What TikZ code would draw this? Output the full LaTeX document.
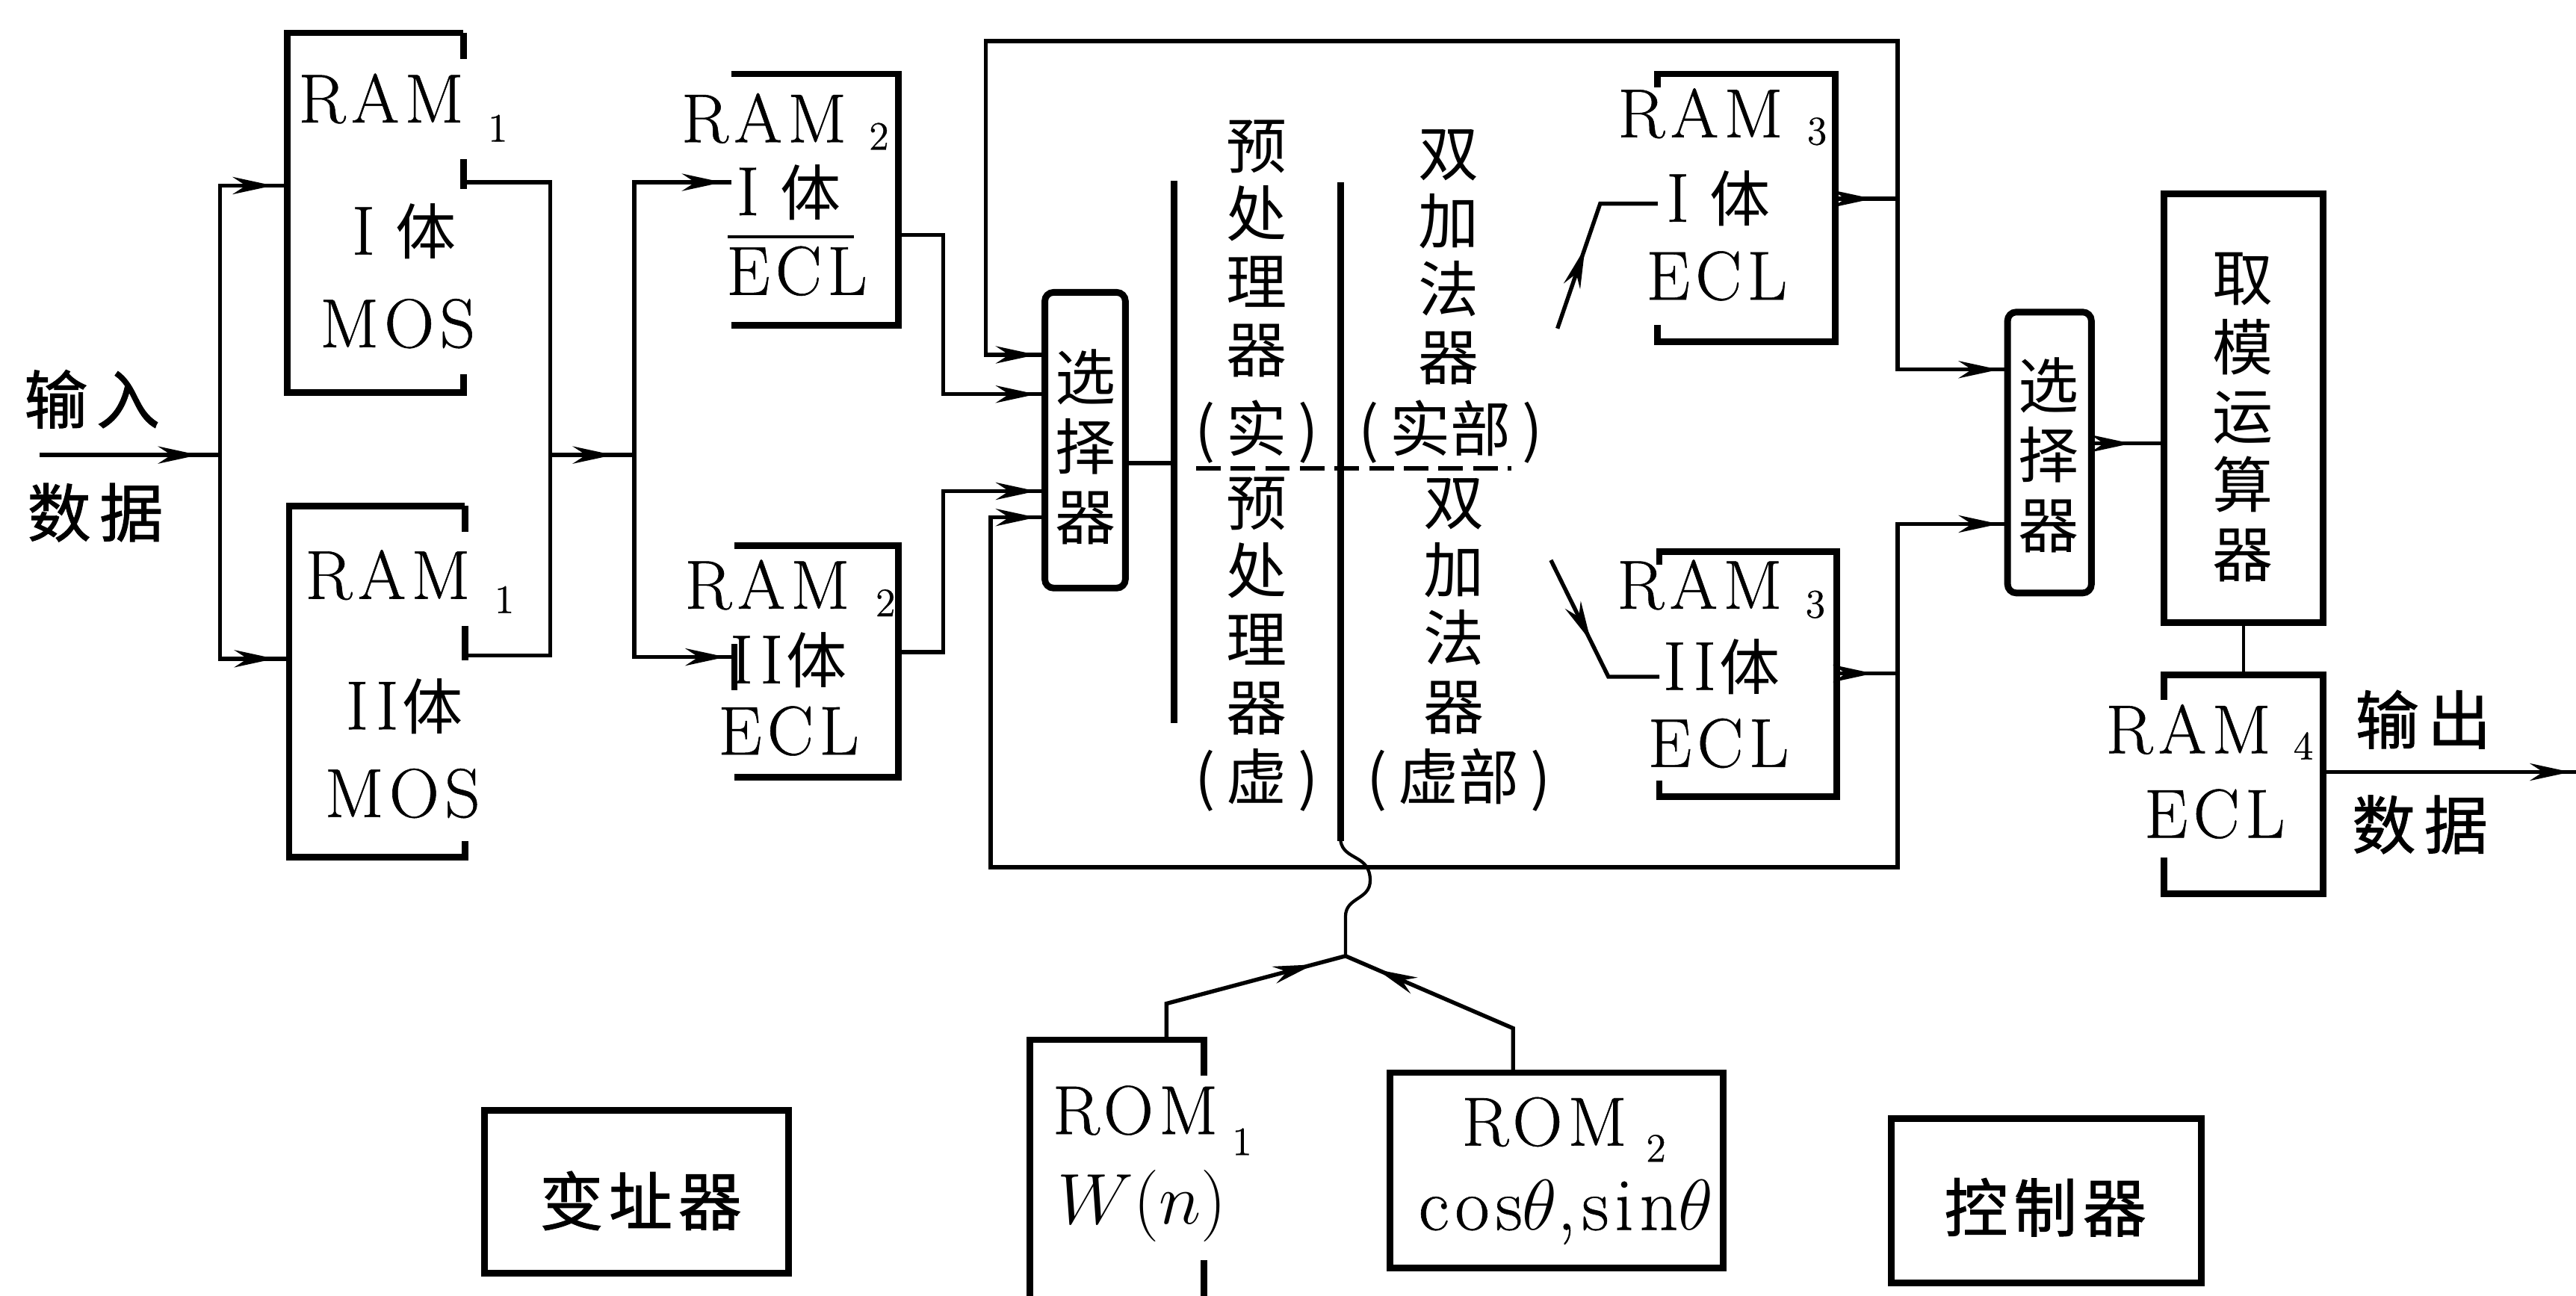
\documentclass[tikz,border=0pt]{standalone}
\usepackage{fontspec}
\setmainfont{Latin Modern Roman}[FakeBold=0.6, LetterSpace=8]
\newfontfamily\cjk{Noto Sans CJK SC}
\newfontfamily\cjkb[FakeBold=1.2]{Noto Sans CJK SC}
\usetikzlibrary{arrows.meta,decorations.markings}
\newdimen\pxu \pxu=0.02cm
\newcommand\mkbox[5]{\node[bx, minimum width={(#4-#2)*\pxu}, minimum height={(#5-#3)*\pxu}] (#1) at ({(#2+#4)/2},{(#3+#5)/2}) {};}
\newcommand\tizh{{\cjk\fontsize{21}{24}\selectfont 体}}
\newcommand\pars[1]{(\hspace{0.18em}#1\hspace{0.18em})}
\begin{document}
\begin{tikzpicture}[x=0.02cm, y=-0.02cm,
  bx/.style={inner sep=0pt, outer sep=0pt},
  edge/.style={line width=2.3pt},
  wire/.style={line width=1.4pt},
  thin wire/.style={line width=1.1pt},
  flow/.style={decoration={markings, mark=at position #1 with {\arrow{Stealth[length=14pt,width=6pt]}}}, postaction={decorate}},
  lat/.style={font=\fontsize{24}{28}\selectfont, inner sep=0pt},
  sub/.style={font=\fontsize{14}{16}\selectfont, inner sep=0pt},
  col/.style={font=\cjk\fontsize{21}{#1}\selectfont, align=center, inner sep=0pt},
  cj/.style={font=\cjk\fontsize{21}{24}\selectfont, inner sep=0pt},
  cjb/.style={font=\cjkb\fontsize{22}{26}\selectfont, inner sep=0pt},
]
\useasboundingbox (0,0) rectangle (1568,788.55);

% ---------- box nodes ----------
\mkbox{ra}{175}{20}{282}{239}
\mkbox{rb}{176}{308}{283}{522}
\mkbox{rc}{445}{45}{547}{198}
\mkbox{rd}{447}{332}{547}{473}
\mkbox{sa}{636}{178}{685}{358}
\mkbox{re}{1009}{45}{1117}{208}
\mkbox{rf}{1010}{336}{1118}{485}
\mkbox{sb}{1222}{190}{1273}{361}
\mkbox{md}{1317}{118}{1414}{379}
\mkbox{rg}{1317}{411}{1414}{544}
\mkbox{rh}{627}{633}{733}{789}
\mkbox{ri}{846}{653}{1049}{772}
\mkbox{ad}{295}{676}{480}{775}
\mkbox{ct}{1151}{681}{1340}{781}

% ---------- outlines ----------
\draw[edge] (ra.north east) -- (ra.north west) -- (ra.south west) -- (ra.south east) -- ++(0,-11);
\draw[edge] (ra.north east) -- ++(0,16);
\draw[edge] (ra.east |- 0,97) -- (ra.east |- 0,115);
\draw[edge] (rb.north east) -- (rb.north west) -- (rb.south west) -- (rb.south east) -- ++(0,-10);
\draw[edge] (rb.north east) -- ++(0,16);
\draw[edge] (rb.east |- 0,381) -- (rb.east |- 0,402);
\draw[edge] (rc.north west) -- (rc.north east) -- (rc.south east) -- (rc.south west);
\draw[edge] (rd.north west) -- (rd.north east) -- (rd.south east) -- (rd.south west);
\draw[edge] (rd.west |- 0,392) -- (rd.west |- 0,420);
\draw[edge, rounded corners=3pt] (sa.north west) rectangle (sa.south east);
\draw[edge] (re.north west) ++(0,8) -- (re.north west) -- (re.north east) -- (re.south east) -- (re.south west) -- ++(0,-10);
\draw[edge] (rf.north west) ++(0,8) -- (rf.north west) -- (rf.north east) -- (rf.south east) -- (rf.south west) -- ++(0,-10);
\draw[edge, rounded corners=3pt] (sb.north west) rectangle (sb.south east);
\draw[edge] (md.north west) rectangle (md.south east);
\draw[edge] (rg.west |- 0,426) -- (rg.north west) -- (rg.north east) -- (rg.south east) -- (rg.south west) -- (rg.west |- 0,522);
\draw[edge] (rh.east |- 0,655) -- (rh.north east) -- (rh.north west) -- (rh.south west);
\draw[edge] (rh.east |- 0,767) -- (rh.south east);
\draw[edge] (ri.north west) rectangle (ri.south east);
\draw[edge] (ad.north west) rectangle (ad.south east);
\draw[edge] (ct.north west) rectangle (ct.south east);

% ---------- texts ----------
\node[cjb] (tin1) at (56,243) {输\hspace{3pt}入};
\node[cjb] (tin2) at (58,312) {数\hspace{3pt}据};
\node[lat] (ra1) at (232,60) {RAM};
\node[sub] (ra2) at (303,78) {1};
\node[lat] (ra3) at (246,141) {I\hspace{0.3em}\tizh};
\node[lat] (ra4) at (242,197) {MOS};
\node[lat] (rb1) at (236,350) {RAM};
\node[sub] (rb2) at (307,365) {1};
\node[lat] (rb3) at (246,430) {II\hspace{0.05em}\tizh};
\node[lat] (rb4) at (245,483) {MOS};
\node[lat] (rc1) at (465,72) {RAM};
\node[sub] (rc2) at (535,83) {2};
\node[lat] (rc3) at (480,117) {I\hspace{0.3em}\tizh};
\node[lat] (rc4) at (485,165) {ECL};
\node[lat] (rd1) at (467,356) {RAM};
\node[sub] (rd2) at (539,367) {2};
\node[lat] (rd3) at (480,402) {II\hspace{0.05em}\tizh};
\node[lat] (rd4) at (480,445) {ECL};
\node[col=24.2] (sat) at (661,272) {选\\择\\器};
\node[col=23.6] (pu1) at (765,151.5) {预\\处\\理\\器};
\node[cj] (pu2) at (765,263) {\pars{实}};
\node[col=23.6] (pl1t) at (765,369) {预\\处\\理\\器};
\node[cj] (pl2t) at (765,475) {\pars{虚}};
\node[col=23.6] (au1) at (882,156.5) {双\\加\\法\\器};
\node[cj] (au2) at (883,263) {\pars{实部}};
\node[col=23.6] (al1) at (885,369) {双\\加\\法\\器};
\node[cj] (al2) at (888,475) {\pars{虚部}};
\node[lat] (re1) at (1035,69) {RAM};
\node[sub] (re2) at (1106,80) {3};
\node[lat] (re3) at (1046,121) {I\hspace{0.3em}\tizh};
\node[lat] (re4) at (1045,168) {ECL};
\node[lat] (rf1) at (1034.5,356) {RAM};
\node[sub] (rf2) at (1105,368) {3};
\node[lat] (rf3) at (1048,406) {II\hspace{0.05em}\tizh};
\node[lat] (rf4) at (1046,452.5) {ECL};
\node[col=24.2] (sbt) at (1247,277) {选\\择\\器};
\node[col=23.9] (mdt) at (1365,254) {取\\模\\运\\算\\器};
\node[lat] (rg1) at (1332,444) {RAM};
\node[sub] (rg2) at (1402,454) {4};
\node[lat] (rg3) at (1348,495.5) {ECL};
\node[cjb] (tout1) at (1475,438) {输\hspace{3pt}出};
\node[cjb] (tout2) at (1473,502) {数\hspace{3pt}据};
\node[lat] (rh1) at (691,676) {ROM};
\node[sub] (rh2) at (756,695) {1};
\node[inner sep=0pt, font=\fontsize{26}{30}\selectfont] (rh3) at (695,734) {$W(n)$};
\node[lat] (ri1) at (940,683) {ROM};
\node[sub] (ri2) at (1008,699) {2};
\node[inner sep=0pt, font=\fontsize{26}{30}\selectfont] (ri3) at (953,738) {cos$\theta$,sin$\theta$};
\node[cjb] (adt) at (390,731) {变\hspace{2pt}址\hspace{2pt}器};
\node[cjb] (ctt) at (1245,735) {控\hspace{2pt}制\hspace{2pt}器};

% ---------- coordinates ----------
\coordinate (in) at (24,277);
\coordinate (b1) at (134,277);
\coordinate (m1) at (335,277);
\coordinate (b2) at (386,277);
\coordinate (j1) at (1155,121);
\coordinate (j2) at (1155,410);
\coordinate (pl1) at (714.5,110);
\coordinate (pl2) at (714.5,440);
\coordinate (pr1) at (816,111);
\coordinate (J) at (819,582);
\coordinate (d1) at (948,200);
\coordinate (d2) at (944,341);
\coordinate (out) at (1568,470);
\coordinate (dl1) at (728,285);
\coordinate (dl2) at (920,285);
\coordinate (ol1) at (443,144);
\coordinate (ol2) at (520,144);

% ---------- connectors ----------
\draw[wire, flow=0.88] (in) -- (b1);
\draw[wire, flow=-5pt] (b1) |- (ra.west |- 0,113);
\draw[wire, flow=-5pt] (b1) |- (rb.west |- 0,401);
\draw[wire] (ra.east |- 0,111) -| (m1);
\draw[wire] (rb.east |- 0,399) -| (m1);
\draw[wire, flow=0.75] (m1) -- (b2);
\draw[wire, flow=-3pt] (b2) |- (rc.west |- 0,111);
\draw[wire, flow=-3pt] (b2) |- (rd.west |- 0,400);
\draw[wire, flow=-3pt] (rc.east |- 0,143) -| (574,240) -- (sa.west |- 0,240);
\draw[wire, flow=-3pt] (rd.east |- 0,397) -| (574,299) -- (sa.west |- 0,299);
\draw[wire, flow=-3pt] (j1) -- (1155,25) -- (600,25) |- (sa.west |- 0,216);
\draw[wire, flow=-3pt] (j2) -- (1155,528) -- (603,528) |- (sa.west |- 0,315);
\draw[wire, flow=-3pt] (j1) |- (sb.west |- 0,225);
\draw[wire, flow=-3pt] (j2) |- (sb.west |- 0,319);
\draw[wire, flow=0.6] (re.east |- 0,121) -- (j1);
\draw[wire, flow=0.6] (rf.east |- 0,410) -- (j2);
\draw[wire] (sa.east |- 0,282) -- (pl1 |- 0,282);
\draw[edge] (pl1) -- (pl2);
\draw[edge] (pr1) -- (816,512);
\draw[thin wire] (816,512) .. controls (818,524) and (834,520) .. (834,536) .. controls (834,548) and (819,546) .. (819,558) -- (J);
\draw[wire, flow=0.85] (rh.north -| 710,0) -- (710,611) -- (J);
\draw[wire, flow=0.85] (ri.north -| 921,0) -- (921,626) -- (J);
\draw[wire, flow=0.45] (d1) -- (974,124) -- (re.west |- 0,124);
\draw[wire, flow=0.5] (d2) -- (979,412) -- (rf.west |- 0,412);
\draw[wire, flow=0.55] (sb.east |- 0,270) -- (md.west |- 0,270);
\draw[thin wire] (md.south) -- (rg.north);
\draw[wire, flow=-2pt] (rg.east |- 0,470) -- (out);
\draw[line width=1.6pt, dash pattern=on 8.5pt off 3.5pt] (dl1) -- (dl2);
\draw[thin wire] (ol1) -- (ol2);
\end{tikzpicture}
\end{document}
